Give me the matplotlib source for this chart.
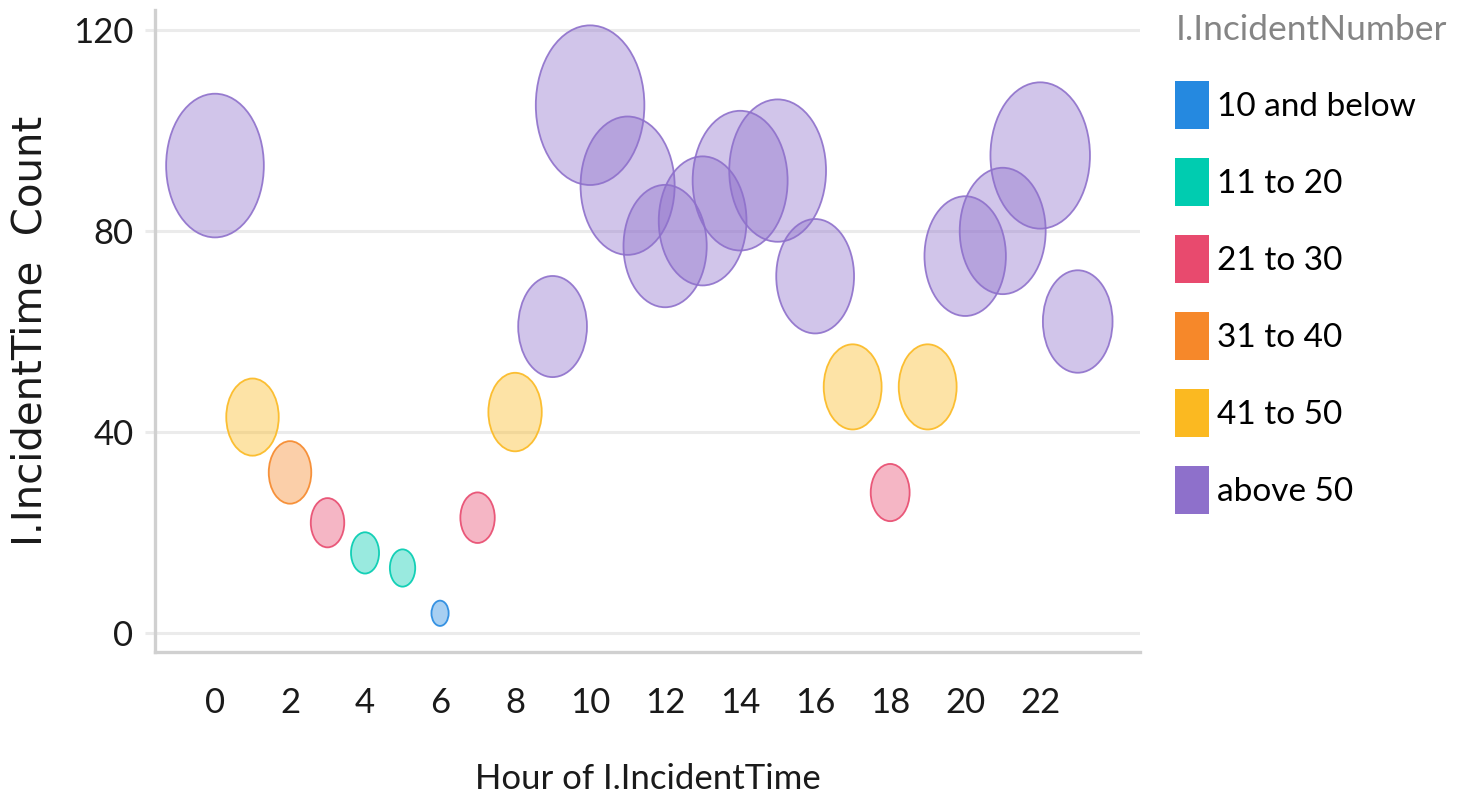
import matplotlib
matplotlib.use("Agg")
import matplotlib.pyplot as plt
from matplotlib import font_manager
from matplotlib.path import Path
from matplotlib.patches import Patch
from matplotlib.transforms import Affine2D

# hour of incident time vs. incident count (bubble size and colour follow the count)
hours = list(range(24))
counts = [93, 43, 32, 22, 16, 13, 4, 23, 44, 61, 105, 89,
          77, 82, 90, 92, 71, 49, 28, 49, 75, 80, 95, 62]

bin_labels = ["10 and below", "11 to 20", "21 to 30", "31 to 40", "41 to 50", "above 50"]
bin_edges = [10, 20, 30, 40, 50]
bin_colors = ["#2589E0", "#00CCB0", "#E84A6E", "#F6882A", "#FBB921", "#8E70CB"]

x_ticks = list(range(0, 24, 2))
y_ticks = [0, 40, 80, 120]

installed = {f.name for f in font_manager.fontManager.ttflist}
if "Liberation Sans Narrow" in installed:
    FONT, TICK_FS, LEG_FS = "Liberation Sans Narrow", 29, 29
else:
    FONT, TICK_FS, LEG_FS = "Lato", 25, 24


def bin_of(v):
    for i, edge in enumerate(bin_edges):
        if v <= edge:
            return i
    return len(bin_edges)


def rgba(hex_color, alpha):
    c = matplotlib.colors.to_rgba(hex_color)
    return (c[0], c[1], c[2], alpha)


# tall ellipse marker (the original chart is squeezed horizontally)
ellipse = Path.unit_circle().transformed(Affine2D().scale(0.68, 1.0))

face = [rgba(bin_colors[bin_of(v)], 0.4) for v in counts]
edge = [rgba(bin_colors[bin_of(v)], 0.9) for v in counts]
# bubble height in px grows with the count, converted to points^2
sizes = [((20 + 1.33 * v) * 0.72) ** 2 for v in counts]

fig = plt.figure(figsize=(14.62, 8.01), dpi=100)
ax = fig.add_axes([0.106, 0.186, 0.674, 0.802])

ax.scatter(hours, counts, s=sizes, marker=ellipse, c=face,
           edgecolors=edge, linewidths=1.3, zorder=3)

ax.set_xlim(-1.6, 24.67)
ax.set_ylim(-3.7, 124)
ax.set_xticks(x_ticks)
ax.set_yticks(y_ticks)
ax.grid(axis="y", color="#ebebeb", linewidth=2.2, zorder=0)
ax.set_axisbelow(True)

for side in ["top", "right"]:
    ax.spines[side].set_visible(False)
for side in ["left", "bottom"]:
    ax.spines[side].set_color("#d0d0d0")
    ax.spines[side].set_linewidth(2.4)

ax.tick_params(axis="x", length=0, pad=25, labelsize=TICK_FS, labelcolor="#1a1a1a")
ax.tick_params(axis="y", length=7.5, width=2.2, color="#ebebeb", pad=8,
               labelsize=TICK_FS, labelcolor="#1a1a1a")
for lab in ax.get_xticklabels() + ax.get_yticklabels():
    lab.set_fontfamily(FONT)

ax.set_xlabel("Hour of I.IncidentTime", fontsize=TICK_FS, family=FONT,
              color="#1a1a1a", labelpad=32)
ax.set_ylabel("I.IncidentTime  Count", fontsize=29, family="DejaVu Sans",
              color="#1a1a1a", labelpad=16)

handles = [Patch(facecolor=c, edgecolor="none") for c in bin_colors]
leg = ax.legend(handles, bin_labels, loc="upper left",
                bbox_to_anchor=(0.804, 0.982), bbox_transform=fig.transFigure,
                frameon=False, title="I.IncidentNumber", alignment="left",
                prop={"family": FONT, "size": LEG_FS},
                handlelength=1.02, handleheight=1.84, handletextpad=0.24,
                labelspacing=0.87, borderaxespad=0, borderpad=0)
leg.get_title().set_fontfamily(FONT)
leg.get_title().set_fontsize(25.5)
leg.get_title().set_color("#858585")
leg._legend_box.sep = 25

fig.savefig("out.png", dpi=100)
